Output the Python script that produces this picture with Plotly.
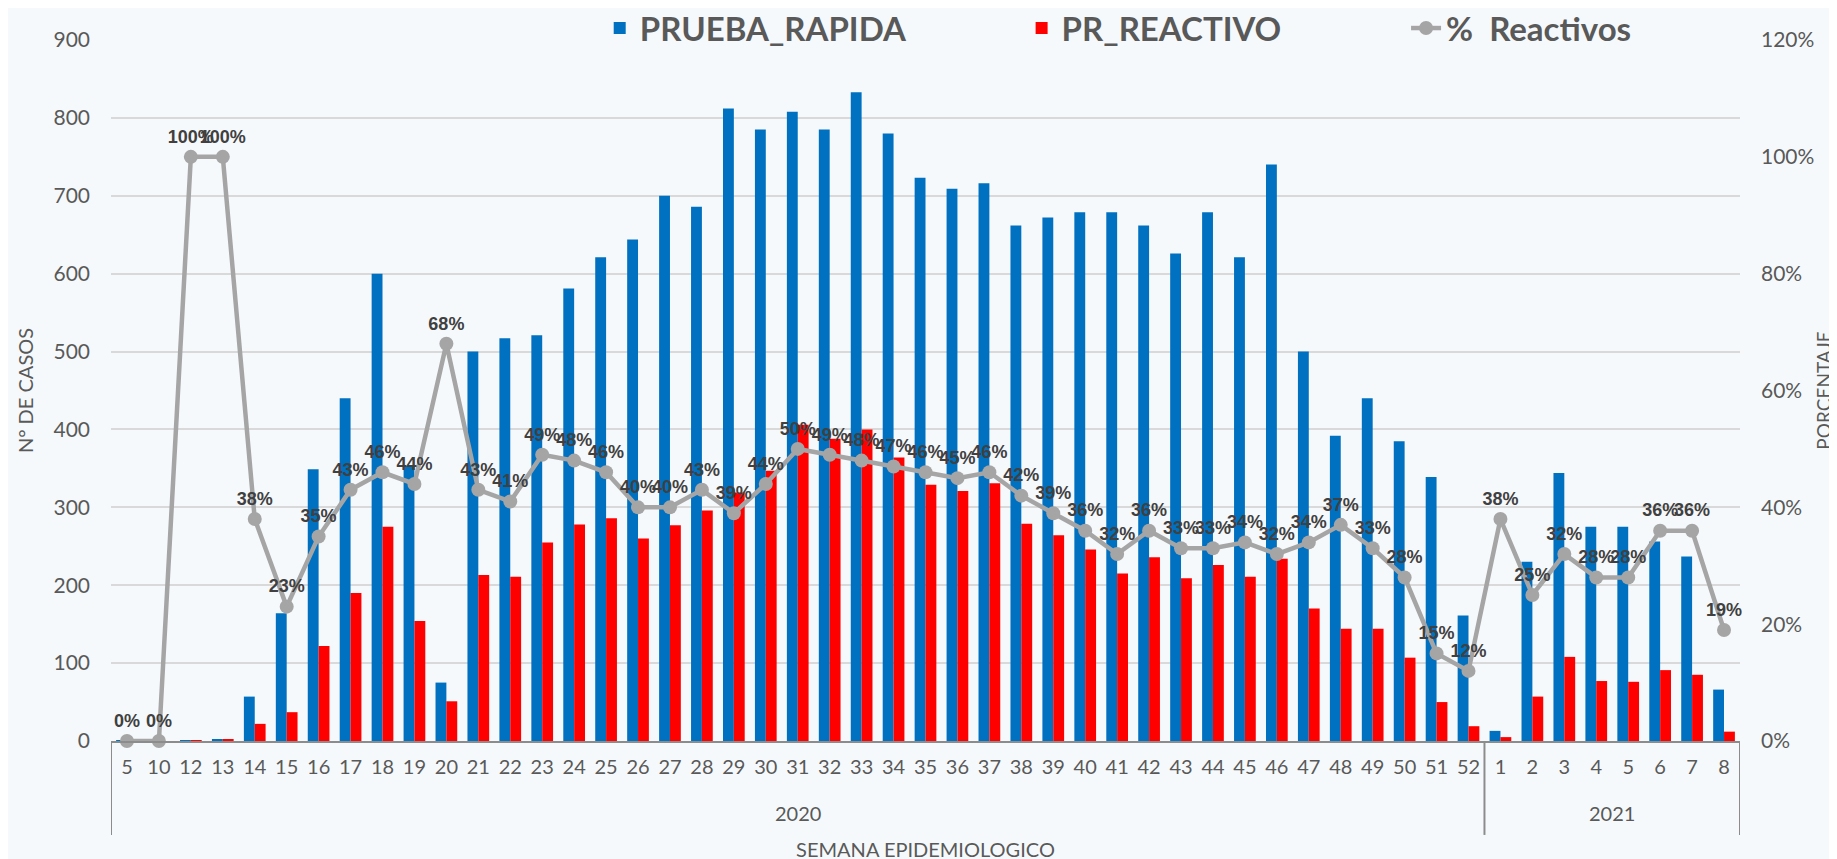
import plotly.graph_objects as go

years = ["2020"] * 43 + ["2021"] * 8
weeks_2020 = ["5", "10"] + [str(w) for w in range(12, 53)]
weeks_2021 = [str(w) for w in range(1, 9)]

prueba_rapida = [1, 1, 1, 2, 57, 164, 349, 440, 600, 353, 75, 500, 517, 521, 581, 621,
                 644, 700, 686, 812, 785, 808, 785, 833, 780, 723, 709, 716, 662, 672,
                 679, 679, 662, 626, 679, 621, 740, 500, 392, 440, 385, 339, 161,
                 13, 230, 344, 275, 275, 256, 237, 66]
pr_reactivo = [0, 0, 1, 2, 22, 37, 122, 190, 275, 154, 51, 213, 211, 255, 278, 286,
               260, 277, 296, 319, 347, 406, 388, 400, 364, 329, 321, 331, 279, 264,
               246, 215, 236, 209, 226, 211, 234, 170, 144, 144, 107, 50, 19,
               5, 57, 108, 77, 76, 91, 85, 12]
pct_reactivos = [0, 0, 100, 100, 38, 23, 35, 43, 46, 44, 68, 43, 41, 49, 48, 46,
                 40, 40, 43, 39, 44, 50, 49, 48, 47, 46, 45, 46, 42, 39,
                 36, 32, 36, 33, 33, 34, 32, 34, 37, 33, 28, 15, 12,
                 38, 25, 32, 28, 28, 36, 36, 19]

BLUE = "#0070C0"
RED = "#FF0000"
GRAY = "#A5A5A5"
TXT = "#595959"
AXIS = "#8C8C8C"
FONT = "Lato, 'Open Sans', sans-serif"

# unique category keys (year-week), shown with the week number only
cat_keys = [f"{y}-{w}" for y, w in zip(years, weeks_2020 + weeks_2021)]
tick_text = weeks_2020 + weeks_2021
n = len(cat_keys)

fig = go.Figure()
fig.add_trace(go.Bar(x=cat_keys, y=prueba_rapida, name="PRUEBA_RAPIDA",
                     marker=dict(color=BLUE, line=dict(width=0)), legend="legend"))
fig.add_trace(go.Bar(x=cat_keys, y=pr_reactivo, name="PR_REACTIVO",
                     marker=dict(color=RED, line=dict(width=0)), legend="legend2"))
fig.add_trace(go.Scatter(
    x=cat_keys, y=[p / 100 for p in pct_reactivos], name="%  Reactivos", yaxis="y2",
    mode="lines+markers+text",
    line=dict(color=GRAY, width=4.5),
    marker=dict(color=GRAY, size=14),
    text=[f"{p}%" for p in pct_reactivos],
    textposition="top center",
    textfont=dict(family="'Liberation Sans', Arial, sans-serif", size=18,
                  color="#404040", weight="bold"),
    cliponaxis=False,
    legend="legend3",
))

# year group dividers and labels (multi-level category axis)
n2020 = years.count("2020")
group_edges = [-0.5, n2020 - 0.5, n - 0.5]
shapes = [dict(type="line", xref="x", yref="paper", x0=e, x1=e, y0=0, y1=-0.134,
               line=dict(color=AXIS, width=2)) for e in group_edges]
annotations = [
    dict(text="2020", xref="x", yref="paper", x=(n2020 - 1) / 2, y=-0.102,
         showarrow=False, yanchor="middle", font=dict(size=20, color=TXT)),
    dict(text="2021", xref="x", yref="paper", x=n2020 + (n - n2020 - 1) / 2, y=-0.102,
         showarrow=False, yanchor="middle", font=dict(size=20, color=TXT)),
]

legend_common = dict(orientation="h", yanchor="middle", y=1.017, xanchor="left",
                     bgcolor="rgba(0,0,0,0)",
                     font=dict(family=FONT, size=33, color=TXT, weight="bold"))

fig.update_layout(
    width=1837, height=859,
    margin=dict(l=103, r=105, t=32, b=126, autoexpand=False),
    paper_bgcolor="#F6F9FC",
    plot_bgcolor="#F6F9FC",
    barmode="group",
    bargap=0.32,
    bargroupgap=0.0,
    showlegend=True,
    font=dict(family=FONT, color=TXT, size=20),
    legend=dict(x=0.300, **legend_common),
    legend2=dict(x=0.559, **legend_common),
    legend3=dict(x=0.795, **legend_common),
    shapes=shapes,
    annotations=annotations,
    xaxis=dict(
        type="category",
        range=[-0.5, n - 0.5],
        tickmode="array", tickvals=cat_keys, ticktext=tick_text,
        showline=True, linecolor=AXIS, linewidth=2,
        tickfont=dict(size=20, color=TXT),
        tickangle=0,
        ticklabelstandoff=7,
        title=dict(text="SEMANA EPIDEMIOLOGICO", font=dict(size=20, color=TXT), standoff=66),
        showgrid=False,
        automargin=False,
    ),
    yaxis=dict(
        range=[0, 900], dtick=100,
        showgrid=True, gridcolor="#D9D9D9", gridwidth=1.5,
        zeroline=False,
        tickfont=dict(size=21, color=TXT),
        ticklabelstandoff=20,
        title=dict(text="N° DE CASOS", font=dict(size=20, color=TXT), standoff=14),
        automargin=False,
    ),
    yaxis2=dict(
        overlaying="y", side="right",
        range=[0, 1.2], dtick=0.2, tickformat=".0%",
        showgrid=False, zeroline=False,
        tickfont=dict(size=21, color=TXT),
        ticklabelstandoff=20,
        title=dict(text="PORCENTAJE", font=dict(size=19, color=TXT), standoff=4),
        automargin=False,
    ),
)

fig.write_html("out.html")
